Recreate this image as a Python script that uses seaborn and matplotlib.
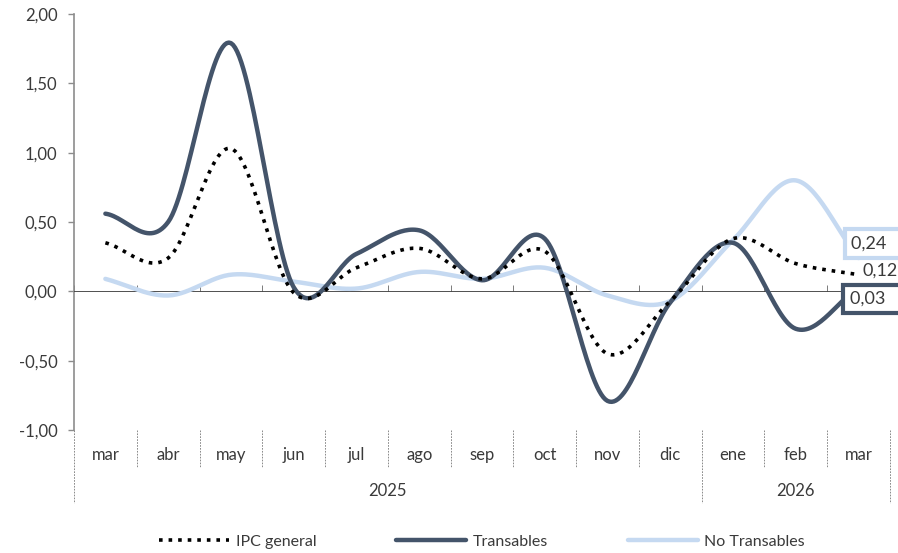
import numpy as np
import pandas as pd
import matplotlib.pyplot as plt
import matplotlib.transforms as mtransforms
import seaborn as sns

sns.set_theme(style="white")
plt.rcParams["font.family"] = ["Lato", "DejaVu Sans"]

months = ["mar", "abr", "may", "jun", "jul", "ago", "sep", "oct", "nov", "dic", "ene", "feb", "mar"]
years = ["2025", "2026"]
year_spans = [(0, 9), (10, 12)]
ipc = [0.35, 0.24, 1.03, -0.01, 0.17, 0.31, 0.09, 0.29, -0.45, -0.07, 0.38, 0.20, 0.12]
transables = [0.56, 0.50, 1.79, 0.03, 0.27, 0.44, 0.08, 0.38, -0.79, -0.08, 0.35, -0.27, 0.03]
no_transables = [0.09, -0.03, 0.12, 0.07, 0.02, 0.14, 0.09, 0.17, -0.03, -0.07, 0.37, 0.80, 0.24]

C_DARK = "#44546A"
C_LIGHT = "#C5D9F1"
TXT = "#3a3a3a"


def smooth(y, n=30):
    # Excel-like smoothed line (Catmull-Rom through every point)
    y = np.asarray(y, float)
    x = np.arange(len(y), dtype=float)
    px = np.concatenate([[2 * x[0] - x[1]], x, [2 * x[-1] - x[-2]]])
    py = np.concatenate([[2 * y[0] - y[1]], y, [2 * y[-1] - y[-2]]])
    xs, ys = [], []
    t = np.linspace(0, 1, n, endpoint=False)
    for i in range(1, len(px) - 2):
        p0, p1, p2, p3 = [np.array([px[j], py[j]]) for j in range(i - 1, i + 3)]
        c1 = p1 + (p2 - p0) / 6
        c2 = p2 - (p3 - p1) / 6
        pts = ((1 - t) ** 3)[:, None] * p1 + (3 * (1 - t) ** 2 * t)[:, None] * c1 \
            + (3 * (1 - t) * t ** 2)[:, None] * c2 + (t ** 3)[:, None] * p2
        xs.extend(pts[:, 0]); ys.extend(pts[:, 1])
    xs.append(x[-1]); ys.append(y[-1])
    return np.array(xs), np.array(ys)


fig = plt.figure(figsize=(8.98, 5.53), dpi=100)
ax = fig.add_axes([0.0824, 0.2224, 0.9086, 0.7523])

series = [("No Transables", no_transables, C_LIGHT, "-", 3.2),
          ("Transables", transables, C_DARK, "-", 3.2),
          ("IPC general", ipc, "black", ":", 2.6)]
for name, vals, col, ls, lw in series:
    sx, sy = smooth(vals)
    d = pd.DataFrame({"x": sx, "y": sy})
    sns.lineplot(data=d, x="x", y="y", ax=ax, color=col, lw=lw, ls=ls, label=name,
                 sort=False, estimator=None, zorder=3 if name != "IPC general" else 4)

ax.set_xlim(-0.5, len(months) - 0.5)
ax.set_ylim(-1.0, 2.0)
yt = np.arange(-1.0, 2.01, 0.5)
ax.set_yticks(yt)
ax.set_yticklabels([f"{v:.2f}".replace(".", ",") for v in yt], fontsize=12, color=TXT)
ax.set_xlabel("")
ax.set_ylabel("")

for s in ["top", "right"]:
    ax.spines[s].set_visible(False)
ax.spines["left"].set_color("#8c8c8c")
ax.spines["left"].set_linewidth(1.2)
ax.spines["bottom"].set_position(("data", 0))
ax.spines["bottom"].set_color("#333333")
ax.spines["bottom"].set_linewidth(0.6)
ax.spines["bottom"].set_linestyle((0, (2, 1)))
ax.tick_params(axis="y", left=True, length=4, width=1, color="#8c8c8c", pad=8)
ax.set_xticks(np.arange(-0.5, len(months), 1.0))
ax.set_xticklabels([])
ax.tick_params(axis="x", bottom=True, direction="in", length=4, width=0.6, color="#666666")

# category labels below the plot
tr = mtransforms.blended_transform_factory(ax.transData, ax.transAxes)
for i, m in enumerate(months):
    ax.text(i, -0.06, m, transform=tr, ha="center", va="center", fontsize=12, color=TXT)
for yr, (a, b) in zip(years, year_spans):
    ax.text((a + b) / 2, -0.147, yr, transform=tr, ha="center", va="center", fontsize=12, color=TXT)
year_edges = [-0.5, 9.5, 12.5]
for e in np.arange(-0.5, len(months), 1.0):
    bottom = -0.175 if e in year_edges else -0.09
    ax.plot([e, e], [0, bottom], transform=tr, color="#777777", lw=0.6,
            ls=(0, (2, 1.5)), clip_on=False)

# end labels
ax.text(11.88, 0.345, f"{no_transables[-1]:.2f}".replace(".", ",") + "  ", fontsize=13, color=TXT,
        ha="left", va="center", zorder=6, clip_on=False,
        bbox=dict(boxstyle="square,pad=0.35", fc="white", ec=C_LIGHT, lw=3))
ax.text(11.86, -0.055, f"{transables[-1]:.2f}".replace(".", ",") + "  ", fontsize=13, color=TXT,
        ha="left", va="center", zorder=6, clip_on=False,
        bbox=dict(boxstyle="square,pad=0.35", fc="white", ec=C_DARK, lw=3))
ax.text(12.06, 0.15, f"{ipc[-1]:.2f}".replace(".", ","), fontsize=13, color=TXT,
        ha="left", va="center", zorder=6)

h, l = ax.get_legend_handles_labels()
hd = dict(zip(l, h))
order = ["IPC general", "Transables", "No Transables"]
leg = ax.legend([hd[k] for k in order], order, loc="center", bbox_to_anchor=(0.5, -0.268), ncol=3,
                frameon=False, fontsize=11.5, handlelength=4.4, columnspacing=5, handletextpad=0.4)
for t in leg.get_texts():
    t.set_color(TXT)

plt.savefig("out.png", dpi=100)
plt.close()
